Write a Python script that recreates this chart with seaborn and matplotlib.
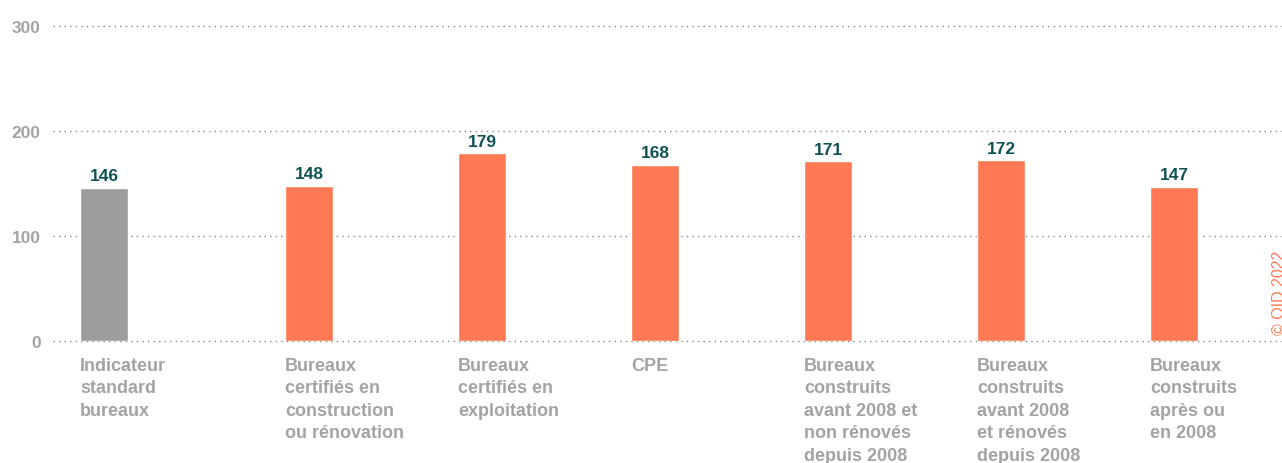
import numpy as np
import pandas as pd
import matplotlib
matplotlib.use("Agg")
import matplotlib.pyplot as plt
import matplotlib.transforms as mtransforms
import seaborn as sns

# data
categories = [
    "Indicateur\nstandard\nbureaux",
    "Bureaux\ncertifiés en\nconstruction\nou rénovation",
    "Bureaux\ncertifiés en\nexploitation",
    "CPE",
    "Bureaux\nconstruits\navant 2008 et\nnon rénovés\ndepuis 2008",
    "Bureaux\nconstruits\navant 2008\net rénovés\ndepuis 2008",
    "Bureaux\nconstruits\naprès ou\nen 2008",
]
values = [146, 148, 179, 168, 171, 172, 147]
yticks = [0, 100, 200, 300]

# layout: first bar is set slightly apart from the others
slots = [-0.185, 1, 2, 3, 4, 5, 6]
bar_w = 0.277

GRAY = "#9d9d9b"
ORANGE = "#ff7a54"
TEAL = "#0f5253"
LABEL = "#a3a3a3"

sns.set_style("white")
plt.rcParams["font.family"] = ["Liberation Sans", "DejaVu Sans"]

df = pd.DataFrame({"pos": slots, "val": values, "cat": categories})
palette = {c: (GRAY if i == 0 else ORANGE) for i, c in enumerate(categories)}

fig = plt.figure(figsize=(12.82, 4.64), dpi=100)
ax = fig.add_axes([53 / 1282, 0.263, 1 - 53 / 1282, 0.679])

sns.barplot(data=df, x="pos", y="val", hue="cat", palette=palette,
            native_scale=True, dodge=False, width=bar_w, legend=False,
            saturation=1, ax=ax)

ax.set_xlim(-0.48, 6.624)
ax.set_ylim(0, 300)
ax.set_yticks(yticks)
ax.set_yticklabels([str(t) for t in yticks], fontsize=12.5,
                   fontweight="bold", color=LABEL)
ax.set_xticks([])
ax.set_xlabel("")
ax.set_ylabel("")
ax.tick_params(axis="y", length=0, pad=9)
for s in ax.spines.values():
    s.set_visible(False)
ax.set_axisbelow(True)
ax.yaxis.grid(True, color="#8a8a8a", linestyle=(0, (1, 3)), linewidth=1)
ax.xaxis.grid(False)
for gl in ax.get_ygridlines():
    gl.set_clip_on(False)

# value labels
for p, v in zip(slots, values):
    ax.annotate(str(v), (p, v), xytext=(0, 3), textcoords="offset points",
                ha="center", va="bottom", fontsize=12.5, fontweight="bold",
                color=TEAL)

# category labels under each bar, left aligned with the bar
trans = mtransforms.blended_transform_factory(ax.transData, ax.transAxes)
for p, c in zip(slots, categories):
    ax.text(p - bar_w / 2, -0.05, c, transform=trans, ha="left", va="top",
            fontsize=13, fontweight="bold", color=LABEL, linespacing=1.42)

fig.text(1272 / 1282, 1 - 335 / 464, "© OID 2022", rotation=90,
         ha="left", va="bottom", fontsize=11.5, color=ORANGE)

fig.savefig("out.png", dpi=100)
